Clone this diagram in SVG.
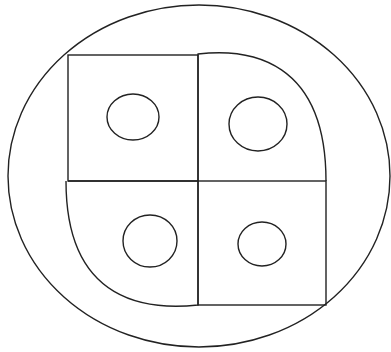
<svg xmlns="http://www.w3.org/2000/svg" width="391" height="352" viewBox="0 0 391 352">
<style>
.s{fill:none;stroke:#222;stroke-width:1.4}
</style>
<rect width="391" height="352" fill="#fff"/>
<g id="outer"><ellipse class="s" cx="199" cy="176" rx="191" ry="171"/></g>
<g id="tl"><rect class="s" x="68" y="55" width="130" height="126"/><ellipse class="s" cx="133" cy="117" rx="26" ry="23"/></g>
<g id="tr"><path class="s" d="M198,181 L198,54 C250,48 326,60 326,181"/><ellipse class="s" cx="258" cy="124" rx="29" ry="27"/></g>
<g id="bl"><path class="s" d="M68,181 L198,181 L198,305 C150,310 66,305 66,181"/><ellipse class="s" cx="150" cy="241" rx="27" ry="26"/></g>
<g id="br"><rect class="s" x="198" y="181" width="128" height="124"/><ellipse class="s" cx="262" cy="244" rx="24" ry="22"/></g>
</svg>
